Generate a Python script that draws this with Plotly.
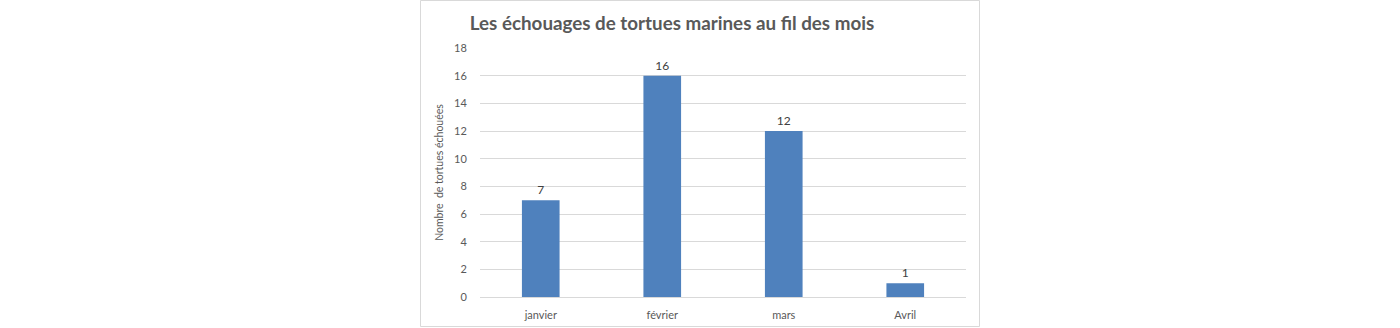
import plotly.graph_objects as go

# Monthly sea-turtle strandings
months = ["janvier", "février", "mars", "Avril"]
strandings = [7, 16, 12, 1]
y_ticks = [0, 2, 4, 6, 8, 10, 12, 14, 16, 18]

W, H = 1400, 328
TEXT = "#595959"
GRID = "#d9d9d9"
BAR = "#4f81bd"
FONT = "Lato, Carlito, Calibri, sans-serif"

fig = go.Figure(
    go.Bar(
        x=months,
        y=strandings,
        marker=dict(color=BAR, line=dict(width=0)),
        text=[str(v) for v in strandings],
        textposition="outside",
        textfont=dict(family=FONT, size=12, color="#404040"),
        cliponaxis=False,
        width=0.31,
    )
)

fig.update_layout(
    width=W,
    height=H,
    margin=dict(l=0, r=0, t=0, b=0, autoexpand=False),
    paper_bgcolor="white",
    plot_bgcolor="white",
    showlegend=False,
    font=dict(family=FONT, size=11, color=TEXT),
    title=dict(
        text="<b>Les échouages de tortues marines au fil des mois</b>",
        x=672 / W,
        xanchor="center",
        y=1 - 23 / H,
        yanchor="middle",
        font=dict(family=FONT, size=18.8, color=TEXT),
        automargin=False,
    ),
    xaxis=dict(
        domain=[480 / W, 966 / W],
        automargin=False,
        showgrid=False,
        showline=False,
        ticks="outside",
        ticklen=8,
        tickcolor="rgba(0,0,0,0)",
        tickfont=dict(size=11, color=TEXT),
    ),
    yaxis=dict(
        domain=[31 / H, 280 / H],
        automargin=False,
        range=[0, 18],
        tickvals=y_ticks,
        showgrid=True,
        gridcolor=GRID,
        gridwidth=1,
        zeroline=True,
        zerolinecolor=GRID,
        zerolinewidth=1,
        showline=False,
        ticks="outside",
        ticklen=10,
        tickcolor="rgba(0,0,0,0)",
        tickfont=dict(size=11, color=TEXT),
        title=dict(
            text="Nombre  de tortues échouées",
            font=dict(size=10.5, color=TEXT),
            standoff=8,
        ),
    ),
    shapes=[
        dict(
            type="rect",
            xref="paper",
            yref="paper",
            x0=420.5 / W,
            x1=979.5 / W,
            y0=1.5 / H,
            y1=1 - 0.5 / H,
            line=dict(color="#d9d9d9", width=1),
            fillcolor="rgba(0,0,0,0)",
            layer="below",
        )
    ],
)

fig.write_html("out.html")
